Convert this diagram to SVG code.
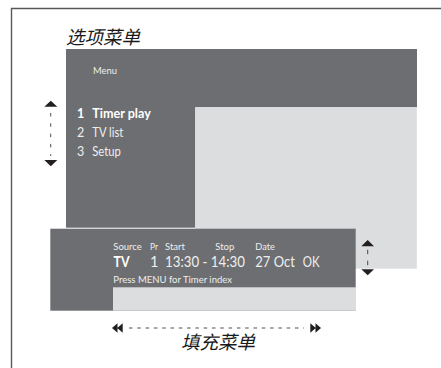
<svg xmlns="http://www.w3.org/2000/svg" width="441" height="368" viewBox="0 0 441 368">
<style>
text{font-family:Lato,"Open Sans","Liberation Sans",sans-serif;fill:#eeeeef}
.s{font-size:9.500px}
.m{font-size:12.500px}
.b{font-size:14.500px}
.w{font-weight:700;fill:#fff}
.cap{font-family:"Noto Sans CJK SC",sans-serif;font-style:italic;font-size:18.500px;fill:#1a1a1a}
.dash{fill:none;stroke:#231f20;stroke-width:.8}
.head{fill:#231f20}
</style>
<rect width="441" height="368" fill="#fff"/>
<path id="frame" d="M11.500 368V8.500H441" fill="none" stroke="#58595b" stroke-width="1.400"/>
<g id="menu-panel">
<rect x="66" y="49" width="351" height="58.300" fill="#6d6e71"/>
<rect x="66" y="107" width="129.300" height="120.700" fill="#6d6e71"/>
<rect x="195.300" y="107.300" width="221.500" height="161.400" fill="#dcddde"/>
<text class="s" x="93" y="74" textLength="24" lengthAdjust="spacingAndGlyphs">Menu</text>
<text class="m w" x="77" y="118">1</text>
<text class="m w" x="92.300" y="118" textLength="58.500" lengthAdjust="spacingAndGlyphs">Timer play</text>
<text class="m" x="77" y="137">2</text>
<text class="m" x="92.300" y="137" textLength="31" lengthAdjust="spacingAndGlyphs">TV list</text>
<text class="m" x="77" y="156">3</text>
<text class="m" x="92.300" y="156" textLength="28.500" lengthAdjust="spacingAndGlyphs">Setup</text>
</g>
<g id="fill-panel">
<rect x="50.300" y="228.700" width="305.400" height="82" fill="#6d6e71"/>
<rect x="113" y="287.300" width="243" height="23.400" fill="#dcddde"/>
<text class="s" x="113.300" y="250" textLength="28.500" lengthAdjust="spacingAndGlyphs">Source</text>
<text class="s" x="150" y="250" textLength="8" lengthAdjust="spacingAndGlyphs">Pr</text>
<text class="s" x="165" y="250" textLength="20" lengthAdjust="spacingAndGlyphs">Start</text>
<text class="s" x="215.300" y="250" textLength="19" lengthAdjust="spacingAndGlyphs">Stop</text>
<text class="s" x="255.300" y="250" textLength="19.500" lengthAdjust="spacingAndGlyphs">Date</text>
<text class="b w" x="113.500" y="266.500" textLength="16" lengthAdjust="spacingAndGlyphs">TV</text>
<text class="b" x="150" y="266.500">1</text>
<text class="b" x="165" y="266.500" textLength="80" lengthAdjust="spacingAndGlyphs">13:30 - 14:30</text>
<text class="b" x="255.300" y="266.500" textLength="39.500" lengthAdjust="spacingAndGlyphs">27 Oct</text>
<text class="b" x="302.700" y="266.500" textLength="16.800" lengthAdjust="spacingAndGlyphs">OK</text>
<text class="s" x="113.300" y="283" textLength="118.700" lengthAdjust="spacingAndGlyphs">Press MENU for Timer index</text>
</g>
<g id="labels">
<text class="cap" x="66" y="44">选项菜单</text>
<text class="cap" x="181" y="349">填充菜单</text>
</g>
<g id="connectors">
<path class="dash" stroke-dasharray="3.500 6.800" d="M50.700 113V156"/>
<path class="head" d="M44.300 106.700H57.300L50.800 100.700ZM44.300 160H57.300L50.800 166.300Z"/>
<path class="dash" stroke-dasharray="4.500 6.500" d="M367.700 249.700V266"/>
<path class="head" d="M361.300 246.300H374L367.700 240ZM361.300 269.300H374L367.700 275.300Z"/>
<path class="dash" stroke-dasharray="3.500 4.800" d="M129 328H304"/>
<path class="head" d="M112 328L117.500 323.300V332.700ZM117.200 328L122.700 323.300V332.700ZM315.800 328L310.300 323.300V332.700ZM321 328L315.500 323.300V332.700Z"/>
</g>
</svg>
